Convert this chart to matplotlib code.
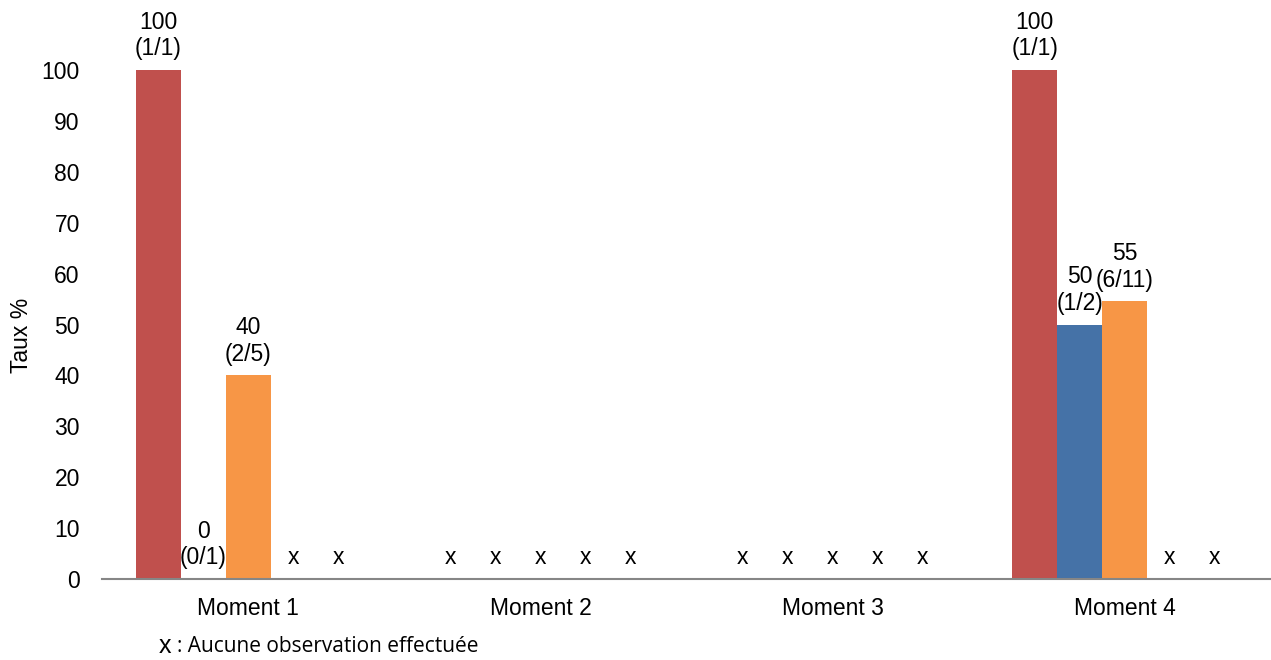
import numpy as np
import matplotlib
matplotlib.use("Agg")
from matplotlib import pyplot as plt

plt.rcParams['font.family'] = ['Liberation Sans', 'DejaVu Sans']

moments = ['Moment 1', 'Moment 2', 'Moment 3', 'Moment 4']

# observed / total counts per moment, None = no observation
red_num = [1, None, None, 1]
red_den = [1, None, None, 1]
blue_num = [0, None, None, 1]
blue_den = [1, None, None, 2]
orange_num = [2, None, None, 6]
orange_den = [5, None, None, 11]
s4_num = [None, None, None, None]
s4_den = [None, None, None, None]
s5_num = [None, None, None, None]
s5_den = [None, None, None, None]

series = [
    (red_num, red_den, '#C0504D'),
    (blue_num, blue_den, '#4572A7'),
    (orange_num, orange_den, '#F79646'),
    (s4_num, s4_den, '#9BBB59'),
    (s5_num, s5_den, '#8064A2'),
]

fig = plt.figure(figsize=(12.71, 6.60), dpi=100)
ax = fig.add_axes([102 / 1271, 81 / 660, 1 - 102 / 1271, 509 / 660])

x = np.arange(len(moments))
width = 0.154
label_size = 16.5

for i, (num, den, color) in enumerate(series):
    pos = x + (i - 2) * width
    for p, n, d in zip(pos, num, den):
        if n is None:
            ax.annotate('x', (p, 0), xytext=(0, 7), textcoords='offset points',
                        ha='center', va='bottom', fontsize=label_size)
            continue
        val = 100 * n / d
        ax.bar(p, val, width, color=color)
        ax.annotate(f'{val:.0f}\n({n}/{d})', (p, val), xytext=(0, 7),
                    textcoords='offset points', ha='center', va='bottom',
                    fontsize=label_size, linespacing=1.2)

ax.set_xlim(-0.5, 3.5)
ax.set_ylim(0, 100)
ax.set_yticks(range(0, 101, 10))
ax.set_xticks(x)
ax.set_xticklabels(moments)
ax.tick_params(axis='both', length=0, labelsize=label_size)
ax.tick_params(axis='y', pad=16)
ax.tick_params(axis='x', pad=13)
for s in ['top', 'right', 'left']:
    ax.spines[s].set_visible(False)
ax.spines['bottom'].set_color('#868686')
ax.spines['bottom'].set_linewidth(1.5)

fig.text(22 / 1271, 1 - 335 / 660, 'Taux %', rotation=90, ha='center', va='center',
         fontsize=label_size)

fig.text(159 / 1271, 1 - 646 / 660, 'x', ha='left', va='center', fontsize=18)
fig.text(177 / 1271, 1 - 646 / 660, ': Aucune observation effectuée', ha='left',
         va='center', fontsize=15, family=['Open Sans', 'DejaVu Sans'])

fig.savefig('out.png', dpi=100)
